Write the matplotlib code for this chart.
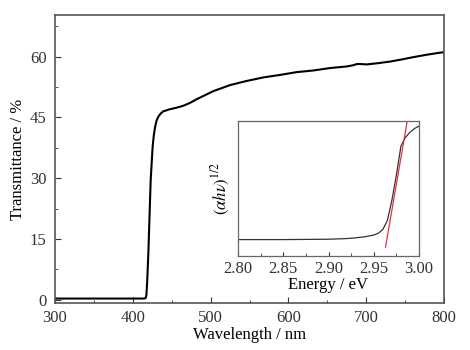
import numpy as np
import matplotlib
matplotlib.use("Agg")
import matplotlib.pyplot as plt
from matplotlib.ticker import MultipleLocator

plt.rcParams['font.family'] = ['Liberation Serif', 'DejaVu Serif']
plt.rcParams['mathtext.fontset'] = 'stix'

# main transmittance spectrum
wavelength = [300, 350, 400, 414, 416.5, 417.5, 418.5, 420, 423, 425.5, 427, 428.5, 430.5, 432.8,
              435.5, 439, 447, 456, 465, 473.5, 482, 503.5, 525, 546, 568, 589, 610.7, 632,
              653.5, 675, 683.5, 688, 692, 700.6, 715, 730.6, 745, 760.6, 778, 794.9, 800]
transmittance = [0.3, 0.3, 0.3, 0.3, 0.4, 1.2, 4.5, 11.6, 29.6, 37.8, 40.6, 42.5, 44.2, 45.2,
                 45.9, 46.5, 47.0, 47.4, 47.9, 48.6, 49.5, 51.5, 53.0, 54.0, 54.9, 55.5, 56.2, 56.6,
                 57.2, 57.6, 57.9, 58.2, 58.2, 58.1, 58.4, 58.8, 59.3, 59.9, 60.5, 61.0, 61.1]

# inset Tauc plot
energy = [2.80, 2.85, 2.90, 2.92, 2.93, 2.94, 2.95, 2.955, 2.96, 2.965, 2.97, 2.975, 2.98,
          2.985, 2.99, 2.995, 3.00]
tauc = [0.06, 0.06, 0.063, 0.068, 0.074, 0.082, 0.096, 0.11, 0.14, 0.21, 0.37, 0.57, 0.80,
        0.87, 0.91, 0.94, 0.96]
fit_energy = [2.963, 2.987]
fit_tauc = [0.0, 1.0]

fig = plt.figure(figsize=(4.7, 3.5), dpi=100)
ax = fig.add_axes([55 / 470, 47 / 350, 389 / 470, 288 / 350])
ax.plot(wavelength, transmittance, color='black', lw=1.5)
ax.set_xlim(300, 800)
ax.set_ylim(-0.8, 70.3)
ax.xaxis.set_major_locator(MultipleLocator(100))
ax.xaxis.set_minor_locator(MultipleLocator(50))
ax.yaxis.set_major_locator(MultipleLocator(15))
ax.yaxis.set_minor_locator(MultipleLocator(7.5))
ax.tick_params(which='both', direction='in', top=False, right=False, labelsize=12, colors='#333333')
ax.tick_params(which='major', length=4)
ax.tick_params(which='minor', length=2.5)
ax.tick_params(axis='x', pad=5)
ax.tick_params(axis='y', pad=6)
for s in ax.spines.values():
    s.set_color('#555555')
    s.set_linewidth(1.2)
ax.set_xlabel('Wavelength / nm', fontsize=12, labelpad=1)
ax.set_ylabel('Transmittance / %', fontsize=12, labelpad=3)

ins = fig.add_axes([238 / 470, 94 / 350, 181 / 470, 135 / 350])
ins.plot(energy, tauc, color='#333333', lw=0.9)
ins.plot(fit_energy, fit_tauc, color='#e0304a', lw=0.9)
ins.set_xlim(2.80, 3.00)
ins.set_ylim(-0.07, 1.0)
ins.set_xticks([2.80, 2.85, 2.90, 2.95, 3.00])
ins.xaxis.set_minor_locator(MultipleLocator(0.025))
ins.set_yticks([])
ins.tick_params(which='both', direction='in', top=False, right=False, labelsize=12, colors='#333333')
ins.tick_params(which='major', length=3)
ins.tick_params(which='minor', length=2)
for s in ins.spines.values():
    s.set_color('#666666')
    s.set_linewidth(0.9)
ins.set_xlabel('Energy / eV', fontsize=12, labelpad=0)
ins.set_ylabel(r'$(\alpha h\nu)^{1/2}$', fontsize=12, labelpad=4)

fig.savefig('out.png', dpi=100)
